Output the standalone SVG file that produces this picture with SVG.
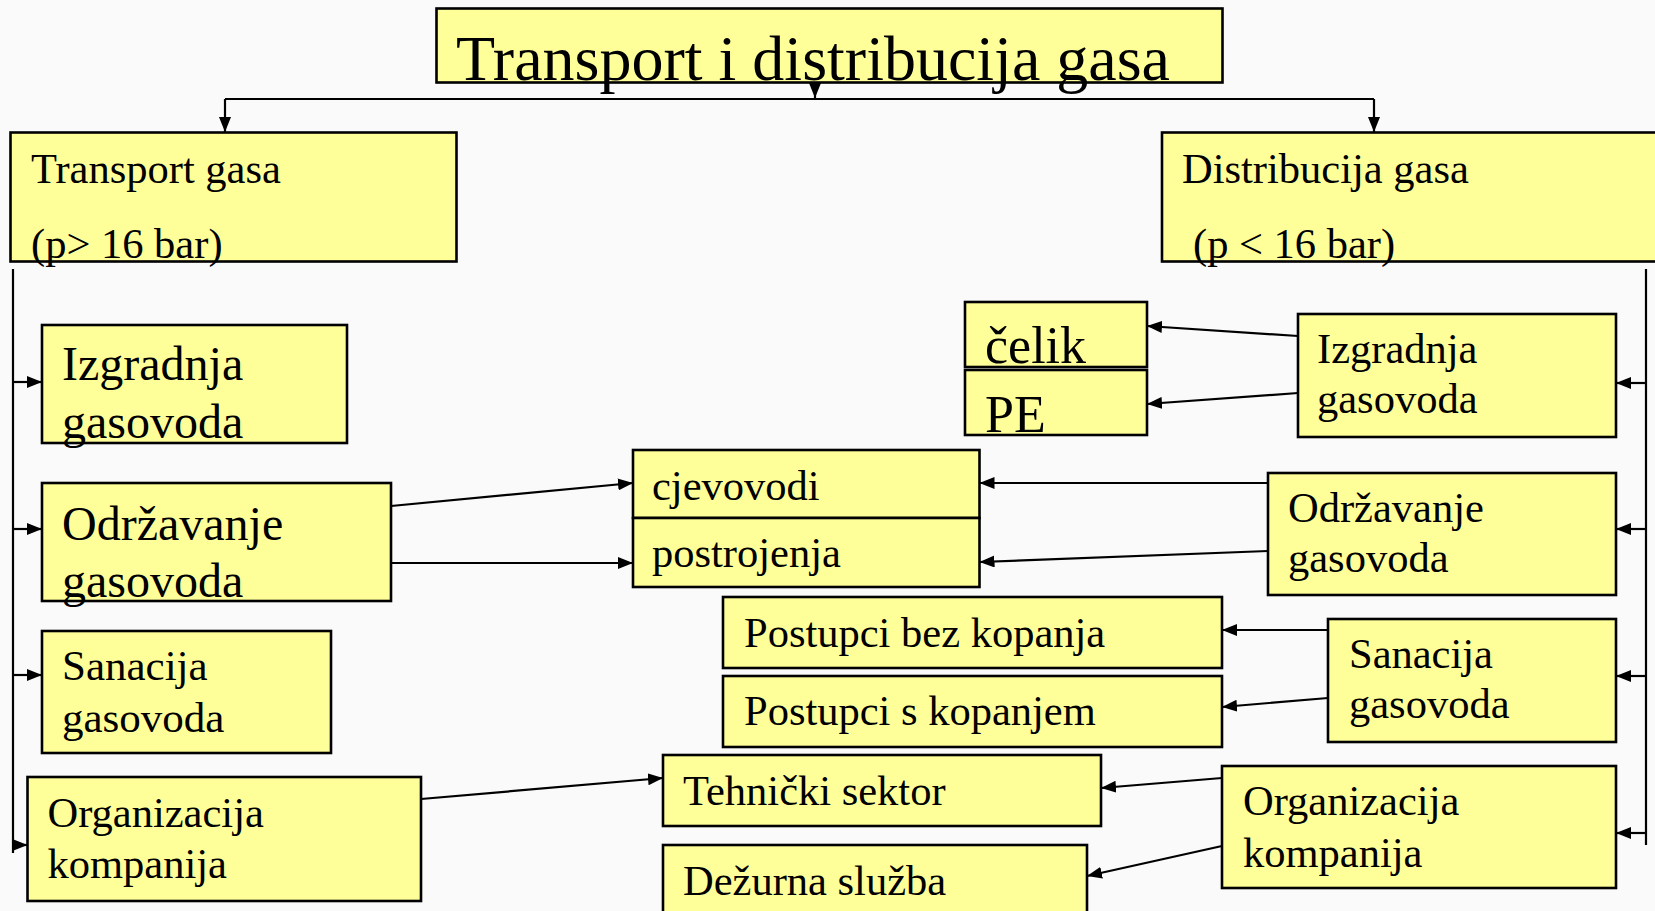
<svg xmlns="http://www.w3.org/2000/svg" width="1655" height="911" viewBox="0 0 1655 911">
<defs>
<marker id="ah" markerUnits="userSpaceOnUse" viewBox="0 0 15 12" markerWidth="15" markerHeight="12" refX="15" refY="6" orient="auto">
<path d="M0,0 L15,6 L0,12 z" fill="#000"/>
</marker>
<style>
.box{fill:#ffff99;stroke:#000;stroke-width:2.6}
.t{font-family:"Liberation Serif","Times New Roman",serif;fill:#000}
.s42{font-size:42.5px}
.s48{font-size:48px}
.s52{font-size:52px}
.c{stroke:#000;stroke-width:2.2;fill:none}
.a{stroke:#000;stroke-width:2.2;fill:none;marker-end:url(#ah)}
</style>
</defs>
<rect width="1655" height="911" fill="#fafafa"/>

<g id="title">
<rect class="box" x="436.5" y="8.5" width="786" height="74"/>
<text class="t" x="456" y="80" font-size="64">Transport i distribucija gasa</text>
</g>

<g id="transport">
<rect class="box" x="10.5" y="132.5" width="446" height="129"/>
<text class="t s42" x="31" y="183">Transport gasa</text>
<text class="t s42" x="31" y="258">(p&gt; 16 bar)</text>
</g>

<g id="distribucija">
<rect class="box" x="1162" y="132.5" width="520" height="129"/>
<text class="t s42" x="1182" y="183">Distribucija gasa</text>
<text class="t s42" x="1193" y="258">(p &lt; 16 bar)</text>
</g>

<g id="l-izgradnja">
<rect class="box" x="42" y="325" width="305" height="118"/>
<text class="t s48" x="62" y="380">Izgradnja</text>
<text class="t s48" x="62" y="438">gasovoda</text>
</g>

<g id="l-odrzavanje">
<rect class="box" x="42" y="483" width="349" height="118"/>
<text class="t s48" x="62" y="540">Održavanje</text>
<text class="t s48" x="62" y="597">gasovoda</text>
</g>

<g id="l-sanacija">
<rect class="box" x="42" y="631" width="289" height="122"/>
<text class="t" x="62" y="680" font-size="43">Sanacija</text>
<text class="t" x="62" y="732" font-size="43">gasovoda</text>
</g>

<g id="l-organizacija">
<rect class="box" x="27.5" y="777" width="393.5" height="124"/>
<text class="t s42" x="47.5" y="827">Organizacija</text>
<text class="t s42" x="47.5" y="878">kompanija</text>
</g>

<g id="cjevovodi">
<rect class="box" x="633" y="450" width="346.5" height="68"/>
<text class="t s42" x="652" y="500">cjevovodi</text>
</g>

<g id="postrojenja">
<rect class="box" x="633" y="518" width="346.5" height="69"/>
<text class="t s42" x="652" y="567">postrojenja</text>
</g>

<g id="postupci-bez">
<rect class="box" x="723" y="597" width="499" height="71"/>
<text class="t s42" x="744" y="647">Postupci bez kopanja</text>
</g>

<g id="postupci-s">
<rect class="box" x="723" y="676" width="499" height="71"/>
<text class="t s42" x="744" y="725">Postupci s kopanjem</text>
</g>

<g id="tehnicki">
<rect class="box" x="663" y="755" width="438" height="71"/>
<text class="t s42" x="683" y="805">Tehnički sektor</text>
</g>

<g id="dezurna">
<rect class="box" x="663" y="845" width="424" height="80"/>
<text class="t s42" x="683" y="895">Dežurna služba</text>
</g>

<g id="celik">
<rect class="box" x="965" y="302" width="182" height="65"/>
<text class="t s52" x="985" y="363">čelik</text>
</g>

<g id="pe">
<rect class="box" x="965" y="370" width="182" height="65"/>
<text class="t s52" x="985" y="432">PE</text>
</g>

<g id="r-izgradnja">
<rect class="box" x="1298" y="314" width="318" height="123"/>
<text class="t s42" x="1317" y="363">Izgradnja</text>
<text class="t s42" x="1317" y="413">gasovoda</text>
</g>

<g id="r-odrzavanje">
<rect class="box" x="1268" y="473" width="348" height="122"/>
<text class="t s42" x="1288" y="522">Održavanje</text>
<text class="t s42" x="1288" y="572">gasovoda</text>
</g>

<g id="r-sanacija">
<rect class="box" x="1328" y="619" width="288" height="123"/>
<text class="t s42" x="1349" y="668">Sanacija</text>
<text class="t s42" x="1349" y="718">gasovoda</text>
</g>

<g id="r-organizacija">
<rect class="box" x="1222" y="766" width="394" height="122"/>
<text class="t s42" x="1243" y="815">Organizacija</text>
<text class="t s42" x="1243" y="867">kompanija</text>
</g>

<g id="connectors">
<line class="c" x1="225" y1="99" x2="1374" y2="99"/>
<line class="a" x1="225" y1="99" x2="225" y2="132"/>
<line class="a" x1="1374" y1="99" x2="1374" y2="132"/>
<line class="a" x1="815" y1="83" x2="815" y2="98"/>

<line class="c" x1="13" y1="269" x2="13" y2="853"/>
<line class="a" x1="13" y1="382" x2="42" y2="382"/>
<line class="a" x1="13" y1="529" x2="42" y2="529"/>
<line class="a" x1="13" y1="675" x2="42" y2="675"/>
<line class="a" x1="13" y1="845" x2="27.5" y2="845"/>

<line class="c" x1="1646" y1="269" x2="1646" y2="845"/>
<line class="a" x1="1646" y1="383" x2="1616" y2="383"/>
<line class="a" x1="1646" y1="529" x2="1616" y2="529"/>
<line class="a" x1="1646" y1="676" x2="1616" y2="676"/>
<line class="a" x1="1646" y1="833" x2="1616" y2="833"/>

<line class="a" x1="391" y1="506" x2="633" y2="483"/>
<line class="a" x1="391" y1="563" x2="633" y2="563"/>
<line class="a" x1="421" y1="799" x2="663" y2="778"/>

<line class="a" x1="1298" y1="336" x2="1147" y2="326"/>
<line class="a" x1="1298" y1="393" x2="1147" y2="404"/>
<line class="a" x1="1268" y1="483" x2="979.5" y2="483"/>
<line class="a" x1="1268" y1="551" x2="979.5" y2="562"/>
<line class="a" x1="1328" y1="630" x2="1222" y2="630"/>
<line class="a" x1="1328" y1="698" x2="1222" y2="707"/>
<line class="a" x1="1222" y1="778" x2="1101" y2="788"/>
<line class="a" x1="1222" y1="846" x2="1087" y2="876"/>
</g>
</svg>
